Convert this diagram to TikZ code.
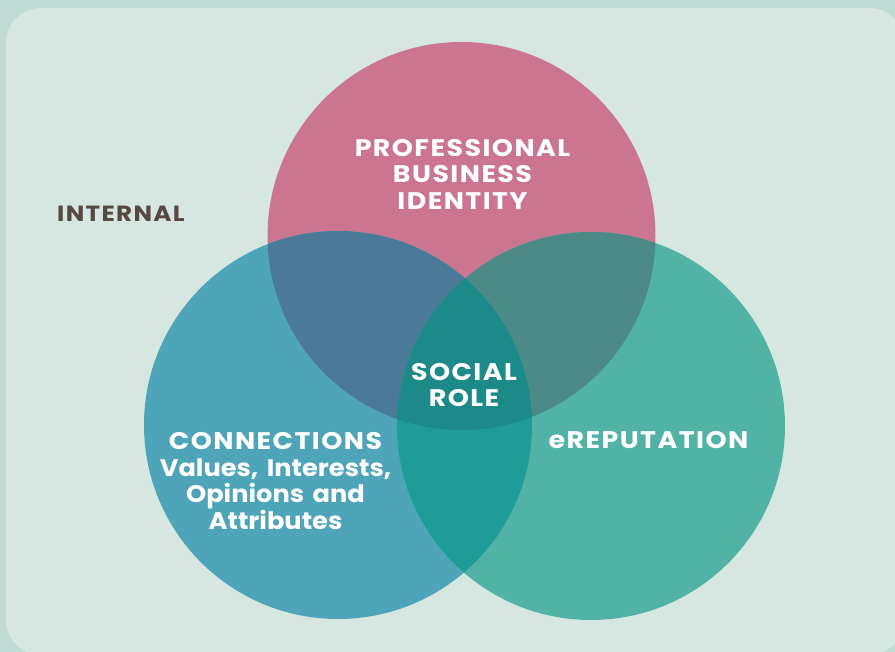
\documentclass[tikz,border=0pt]{standalone}
\usepackage{fontspec}
\setmainfont{Poppins}
\definecolor{outerbg}{HTML}{BFDBD4}
\definecolor{innerbg}{HTML}{D6E7E2}
\definecolor{pinkc}{HTML}{CB7590}
\definecolor{bluec}{HTML}{4EA5B9}
\definecolor{greenc}{HTML}{51B3A6}
\definecolor{pbc}{HTML}{4B7A99}
\definecolor{pgc}{HTML}{4B8A87}
\definecolor{bgc}{HTML}{1F9B98}
\definecolor{allc}{HTML}{1B8A89}
\definecolor{brownc}{HTML}{574842}
\newcommand\capls{\addfontfeature{FakeStretch=1.12,LetterSpace=6}}
\newcommand\lowls{\addfontfeature{FakeStretch=1.07}\spaceskip=8.5pt\relax}
\begin{document}
\begin{tikzpicture}[x=1pt,y=-1pt,
  lbl/.style={text=white,font=\fontsize{24}{26.5}\selectfont\bfseries,align=center,inner sep=0pt},
  ]
\useasboundingbox (0,0) rectangle (895,652);
\fill[outerbg] (0,0) rectangle (895,652);
\fill[innerbg,rounded corners=35pt] (6,8) rectangle (904,655);
\def\rr{194}
\coordinate (P) at (461.5,236);
\coordinate (B) at (338,425);
\coordinate (G) at (591,426);
\fill[pinkc] (P) circle (\rr);
\fill[bluec] (B) circle (\rr);
\fill[greenc] (G) circle (\rr);
\begin{scope}
  \clip (P) circle (\rr);
  \fill[pbc] (B) circle (\rr);
  \fill[pgc] (G) circle (\rr);
\end{scope}
\begin{scope}
  \clip (B) circle (\rr);
  \fill[bgc] (G) circle (\rr);
  \clip (G) circle (\rr);
  \fill[allc] (P) circle (\rr);
\end{scope}
\node[lbl] (prof) at (462.5,174) {\capls PROFESSIONAL\\\capls BUSINESS\\\capls IDENTITY};
\node[lbl] (social) at (464,385) {\capls SOCIAL\\\capls ROLE};
\node[lbl] (conn) at (275.5,481) {\capls CONNECTIONS\\\lowls Values, Interests,\\\lowls Opinions and\\\lowls Attributes};
\node[lbl] (erep) at (648.5,440) {\capls eREPUTATION};
\node[text=brownc,font=\fontsize{22}{24}\selectfont\bfseries,anchor=west,inner sep=0pt] (internal) at (57,214) {\addfontfeature{FakeStretch=1.12,LetterSpace=6}INTERNAL};
\end{tikzpicture}
\end{document}
